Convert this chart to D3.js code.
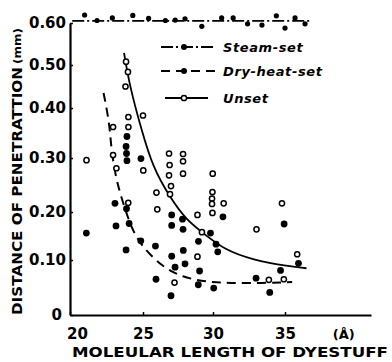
<!DOCTYPE html>
<html lang="en">
<head>
    <meta charset="UTF-8">
    <title>Penetration vs molecular length</title>
    <script src="https://d3js.org/d3.v7.min.js"></script>
    <style>
        body { margin: 0; background: #fff; }
        svg { display: block; }
        text { font-family: "DejaVu Sans", sans-serif; font-weight: bold; fill: #000; }
    </style>
</head>
<body>
<script>
    const width = 392
    const height = 362

    // tick values (axis is slightly uneven)
    const xTicks = [20, 25, 30, 35]
    const yTicks = [0, 0.1, 0.2, 0.3, 0.4, 0.5, 0.6]
    const yTickLabels = ["0", "0.10", "0.20", "0.30", "0.40", "0.50", "0.60"]

    // steam-set: points along top
    const steamX = [21.0, 21.85, 22.9, 24.3, 25.4, 26.6, 27.3, 28.0, 29.2, 30.6, 31.4, 32.4, 33.4, 34.4, 35.0, 35.7, 36.4]
    const steamY = [0.619, 0.606, 0.612, 0.618, 0.611, 0.606, 0.607, 0.610, 0.592, 0.612, 0.612, 0.598, 0.595, 0.617, 0.588, 0.612, 0.598]
    const steamLine = [[20.15, 0.605], [36.9, 0.605]]

    // dry-heat-set (filled circles)
    const dryX = [23.9, 23.84, 23.87, 23.9, 24.86, 23.08, 23.87, 21.12, 23.15, 24.05, 24.85, 23.84, 25.89, 27.05, 27.05, 27.82, 27.86, 28.96,
        29.82, 30.21, 30.33, 30.69, 27.05, 27.88, 28.0, 27.29, 29.04, 25.93, 28.95, 30.05, 27.0, 34.94, 35.94, 34.69, 32.99, 33.94]
    const dryY = [0.343, 0.323, 0.309, 0.295, 0.299, 0.216, 0.206, 0.156, 0.171, 0.176, 0.14, 0.121, 0.129, 0.194, 0.172, 0.185, 0.164, 0.139,
        0.156, 0.133, 0.117, 0.19, 0.108, 0.12, 0.093, 0.087, 0.08, 0.065, 0.055, 0.049, 0.035, 0.175, 0.094, 0.081, 0.067, 0.041]
    const dryCurve = [[22.3, 0.435], [22.7, 0.37], [22.8, 0.326], [23.1, 0.267], [23.6, 0.219], [24.2, 0.167], [24.9, 0.129],
        [26.4, 0.087], [27.8, 0.069], [29.5, 0.06], [31.2, 0.058], [33.4, 0.058], [35.5, 0.06]]

    // unset (open circles)
    const unsetX = [23.84, 23.97, 23.8, 25.0, 24.0, 24.0, 22.95, 22.95, 21.13, 23.18, 26.86, 27.86, 27.86, 26.9, 25.02, 27.86, 26.86, 27.0, 26.93,
        25.96, 26.02, 29.98, 29.96, 29.93, 29.93, 29.96, 30.74, 23.99, 28.89, 29.21, 28.89, 27.25, 34.79, 33.02, 35.85, 33.88, 34.92]
    const unsetY = [0.508, 0.484, 0.45, 0.385, 0.382, 0.362, 0.362, 0.306, 0.296, 0.281, 0.309, 0.308, 0.294, 0.287, 0.277, 0.271, 0.268, 0.248, 0.233,
        0.236, 0.205, 0.271, 0.237, 0.225, 0.215, 0.198, 0.216, 0.217, 0.194, 0.158, 0.107, 0.059, 0.216, 0.164, 0.112, 0.064, 0.065]
    const unsetCurve = [[23.7, 0.529], [24.1, 0.449], [24.9, 0.356], [25.7, 0.283], [26.9, 0.228], [28.1, 0.183], [29.3, 0.156],
        [30.8, 0.121], [32.8, 0.10], [35.1, 0.089], [36.5, 0.085]]

    const legendNames = ["Steam-set", "Dry-heat-set", "Unset"]

    let svg = d3.select("body").append("svg")
        .attr("width", width)
        .attr("height", height)

    const x = d3.scaleLinear()
        .domain([20, 25, 30, 35, 41])
        .range([70, 143, 213, 285, 371])
    const y = d3.scaleLinear()
        .domain(yTicks)
        .range([315, 260, 212, 158, 108, 65, 23])

    // axes
    let xAxis = svg.append("g")
        .attr("transform", `translate(0,${y(0)})`)
        .call(d3.axisBottom(x).tickValues(xTicks).tickSizeInner(-3).tickSizeOuter(0).tickPadding(13))
    let yAxis = svg.append("g")
        .attr("transform", `translate(${x(20)},0)`)
        .call(d3.axisLeft(y).tickValues(yTicks).tickSizeInner(-3).tickSizeOuter(0).tickPadding(4)
            .tickFormat((d, i) => yTickLabels[i]))

    svg.selectAll(".domain").attr("stroke", "#000").attr("stroke-width", 2.2)
    svg.selectAll(".tick line").attr("stroke", "#000").attr("stroke-width", 1.5)
    svg.selectAll(".tick text").style("font-size", "15px").attr("fill", "#000")
    xAxis.selectAll(".tick text").filter(d => d === 20).attr("dx", 7)
    yAxis.selectAll(".tick text").filter(d => d === 0).attr("dx", -4)

    xAxis.append("text")
        .attr("x", x(39.1))
        .attr("y", 24)
        .attr("text-anchor", "middle")
        .style("font-size", "13px")
        .text("(Å)")

    // axis titles
    svg.append("text")
        .attr("x", 72)
        .attr("y", 357)
        .attr("textLength", 316)
        .attr("lengthAdjust", "spacingAndGlyphs")
        .style("font-size", "14px")
        .text("MOLEULAR LENGTH OF DYESTUFF")

    svg.append("text")
        .attr("transform", "translate(22,315) rotate(-90)")
        .attr("textLength", 248)
        .attr("lengthAdjust", "spacingAndGlyphs")
        .style("font-size", "14px")
        .text("DISTANCE OF PENETRATTION")
    svg.append("text")
        .attr("transform", "translate(21,64) rotate(-90)")
        .attr("textLength", 36)
        .attr("lengthAdjust", "spacingAndGlyphs")
        .style("font-size", "11px")
        .text("(mm)")

    const line = d3.line().x(d => x(d[0])).y(d => y(d[1]))
    const smooth = d3.line().x(d => x(d[0])).y(d => y(d[1])).curve(d3.curveBasis)

    const dashes = ["12,3,2,3", "9,6", null]

    // curves
    svg.append("path").attr("d", line(steamLine))
        .attr("fill", "none").attr("stroke", "#000").attr("stroke-width", 1.6)
        .attr("stroke-dasharray", dashes[0])
    svg.append("path").attr("d", smooth(dryCurve))
        .attr("fill", "none").attr("stroke", "#000").attr("stroke-width", 2)
        .attr("stroke-dasharray", dashes[1])
    svg.append("path").attr("d", smooth(unsetCurve))
        .attr("fill", "none").attr("stroke", "#000").attr("stroke-width", 1.8)

    // points
    svg.append("g").selectAll("circle")
        .data(steamX.map((d, i) => [d, steamY[i]]))
        .enter().append("circle")
        .attr("cx", d => x(d[0])).attr("cy", d => y(d[1])).attr("r", 2.6)
        .attr("fill", "#000")
    svg.append("g").selectAll("circle")
        .data(dryX.map((d, i) => [d, dryY[i]]))
        .enter().append("circle")
        .attr("cx", d => x(d[0])).attr("cy", d => y(d[1])).attr("r", 3.4)
        .attr("fill", "#000")
    svg.append("g").selectAll("circle")
        .data(unsetX.map((d, i) => [d, unsetY[i]]))
        .enter().append("circle")
        .attr("cx", d => x(d[0])).attr("cy", d => y(d[1])).attr("r", 2.6)
        .attr("fill", "#fff").attr("stroke", "#000").attr("stroke-width", 1.5)

    // legend
    let legend = svg.append("g").attr("transform", "translate(161,47)")
    legendNames.forEach((name, i) => {
        let row = legend.append("g").attr("transform", `translate(0,${i === 2 ? 51 : i * 24})`)
        row.append("line")
            .attr("x1", i === 2 ? 4 : 0).attr("x2", i === 2 ? 47 : 55)
            .attr("stroke", "#000").attr("stroke-width", 1.8)
            .attr("stroke-dasharray", dashes[i])
        row.append("circle")
            .attr("cx", 23).attr("r", i === 2 ? 2.6 : 3)
            .attr("fill", i === 2 ? "#fff" : "#000")
            .attr("stroke", "#000").attr("stroke-width", i === 2 ? 1.5 : 0)
        row.append("text")
            .attr("x", 62).attr("y", 5)
            .style("font-size", "13px")
            .style("font-style", "italic")
            .style("letter-spacing", "0.6px")
            .text(name)
    })
</script>
</body>
</html>
